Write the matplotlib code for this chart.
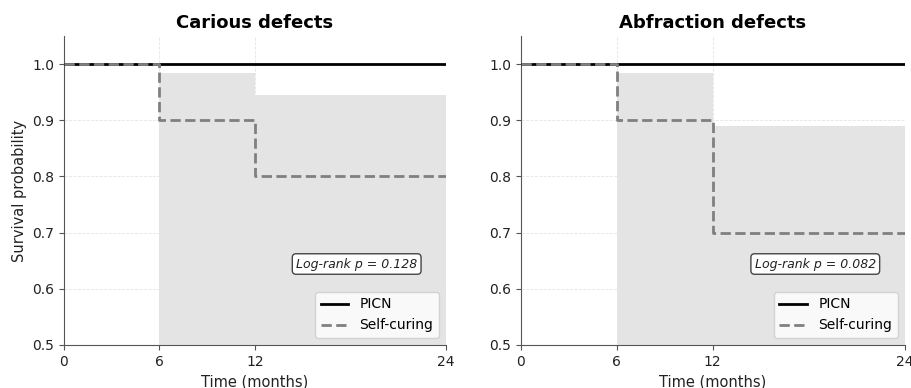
import numpy as np
import matplotlib.pyplot as plt

# Kaplan-Meier step data (months)
times = [0, 6, 12, 24]
picn = [1.0, 1.0, 1.0, 1.0]

titles = ['Carious defects', 'Abfraction defects']
self_curing = [[1.0, 0.9, 0.8, 0.8],
               [1.0, 0.9, 0.7, 0.7]]
ci_upper = [[1.0, 0.985, 0.945, 0.945],
            [1.0, 0.985, 0.89, 0.89]]
ci_lower = [[1.0, 0.40, 0.40, 0.40],
            [1.0, 0.40, 0.35, 0.35]]
p_values = [0.128, 0.082]


fig = plt.figure(figsize=(9.12, 3.88), dpi=100)
axes = [fig.add_axes([0.070, 0.111, 0.419, 0.796]),
        fig.add_axes([0.571, 0.111, 0.421, 0.796])]

for i, ax in enumerate(axes):
    ax.fill_between(times, ci_lower[i], ci_upper[i], step='post',
                    color='#e4e4e4', linewidth=0, zorder=1)
    ax.step(times, picn, where='post', color='black', lw=2, label='PICN', zorder=3)
    ax.step(times, self_curing[i], where='post', color='gray', lw=2,
            linestyle='--', label='Self-curing', zorder=4)

    ax.set_xlim(0, 24)
    ax.set_ylim(0.5, 1.05)
    ax.set_xticks([0, 6, 12, 24])
    ax.set_yticks([0.5, 0.6, 0.7, 0.8, 0.9, 1.0])
    ax.grid(True, linestyle='--', linewidth=0.6, color='#dddddd', alpha=0.8, zorder=0)
    ax.set_axisbelow(True)
    ax.spines['top'].set_visible(False)
    ax.spines['right'].set_visible(False)
    for s in ['left', 'bottom']:
        ax.spines[s].set_color('#555555')
    ax.tick_params(labelsize=10, color='#555555', labelcolor='#222222')

    ax.set_title(titles[i], fontsize=13, fontweight='bold')
    ax.set_xlabel('Time (months)', fontsize=10.5, color='#222222')
    if i == 0:
        ax.set_ylabel('Survival probability', fontsize=10.5, color='#222222')

    ax.text(0.925, 0.262, 'Log-rank p = %.3f' % p_values[i], transform=ax.transAxes,
            ha='right', va='center', fontsize=9, style='italic', color='#222222',
            bbox=dict(boxstyle='round,pad=0.3', facecolor='white', edgecolor='#444444'))
    ax.legend(loc='lower right', fontsize=10)

fig.savefig('out.png', dpi=100)
